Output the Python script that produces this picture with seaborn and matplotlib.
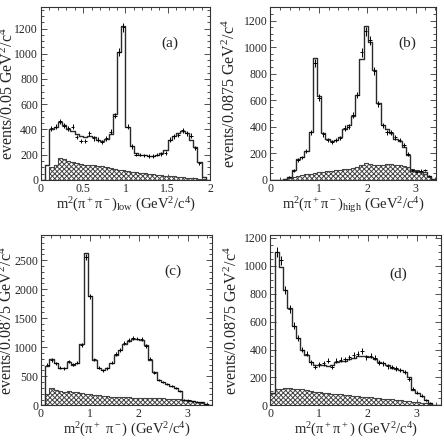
import numpy as np
import pandas as pd
import matplotlib
matplotlib.use("Agg")
import matplotlib.pyplot as plt
from matplotlib.ticker import MultipleLocator, FormatStrFormatter
import seaborn as sns

# bin edges
edges_a = np.linspace(0, 2.0, 41)
edges_b = np.linspace(0, 3.5, 41)

# (a) m2(pi+pi-)_low, 0.05 bins
fit_a = [0, 115, 400, 420, 455, 435, 400, 385, 365, 345,
         340, 345, 340, 320, 305, 325, 365, 520, 1010, 1220,
         420, 265, 210, 200, 195, 192, 192, 198, 210, 235,
         320, 345, 370, 390, 370, 320, 260, 140, 20, 0]
data_a = [np.nan, np.nan, 410, 420, 465, 430, 410, 420, 340, 310,
          310, 370, 330, 320, 300, 330, 380, 510, 1010, 1210,
          420, 265, 200, 200, 195, 190, 190, 200, 205, 215,
          320, 345, 355, 395, 370, 350, 250, 130, np.nan, np.nan]
bkg_a = [0, 0, 105, 115, 170, 165, 150, 140, 130, 125,
         120, 115, 115, 112, 108, 100, 92, 85, 80, 75,
         70, 65, 60, 56, 52, 48, 44, 40, 37, 34,
         31, 28, 25, 22, 18, 15, 12, 8, 4, 0]

# (b) m2(pi+pi-)_high, 0.0875 bins
fit_b = [0, 0, 0, 8, 25, 75, 160, 175, 215, 360,
         920, 630, 350, 310, 290, 300, 320, 380, 410, 480,
         640, 910, 1160, 1040, 830, 580, 410, 380, 350, 310,
         290, 250, 190, 70, 65, 60, 60, 30, 5, 0]
data_b = [np.nan, np.nan, np.nan, np.nan, 25, 70, 150, 170, 220, 360,
          880, 620, 345, 300, 285, 300, 315, 390, 400, 490,
          640, 960, 1120, 1050, 820, 570, 410, 360, 360, 320,
          300, 265, 195, 75, 60, 70, 75, 30, np.nan, np.nan]
bkg_b = [0, 0, 0, 5, 15, 25, 32, 38, 43, 48,
         52, 56, 60, 64, 68, 72, 76, 80, 85, 92,
         100, 112, 125, 122, 115, 112, 115, 118, 118, 115,
         110, 105, 95, 85, 75, 60, 45, 20, 5, 0]

# (c) m2(pi+ pi-), 0.0875 bins
fit_c = [0, 680, 790, 720, 640, 650, 740, 700, 730, 1050,
         2630, 1880, 780, 650, 600, 650, 720, 870, 960, 1050,
         1100, 1140, 1150, 1130, 1030, 780, 570, 440, 400, 360,
         330, 300, 240, 100, 80, 70, 60, 50, 20, 0]
data_c = [np.nan, 700, 780, 720, 650, 640, 760, 710, 730, 1040,
          2560, 1880, 790, 650, 600, 640, 730, 880, 950, 1070,
          1120, 1160, 1150, 1140, 1020, 800, 560, 440, 400, 370,
          330, 300, 240, 100, 90, 70, 60, 50, 20, np.nan]
bkg_c = [0, 200, 290, 260, 245, 235, 240, 235, 225, 210,
         200, 190, 180, 170, 160, 155, 150, 145, 140, 138,
         135, 132, 130, 128, 126, 124, 122, 120, 118, 115,
         112, 108, 102, 95, 85, 75, 60, 45, 25, 0]

# (d) m2(pi+pi+), 0.0875 bins
fit_d = [90, 1100, 990, 830, 700, 570, 480, 400, 360, 310,
         290, 290, 290, 285, 290, 310, 320, 320, 330, 340,
         350, 350, 350, 345, 330, 310, 300, 290, 270, 260,
         250, 240, 200, 110, 90, 70, 40, 20, 5, 0]
data_d = [np.nan, 1100, 1040, 830, 690, 570, 480, 400, 370, 310,
          275, 295, 300, 320, 275, 320, 325, 330, 345, 360,
          370, 390, 345, 355, 340, 305, 300, 280, 275, 265,
          255, 240, 190, 120, 90, 70, 40, 20, np.nan, np.nan]
bkg_d = [90, 115, 120, 122, 122, 120, 118, 114, 108, 102,
         97, 93, 90, 87, 84, 81, 78, 75, 72, 69,
         66, 63, 60, 57, 54, 51, 48, 45, 42, 39,
         36, 33, 30, 26, 22, 18, 14, 10, 5, 0]

sns.set_theme(style="ticks")
plt.rcParams['font.family'] = ['Liberation Serif', 'DejaVu Serif']
plt.rcParams['mathtext.fontset'] = 'custom'
plt.rcParams['mathtext.rm'] = 'Liberation Serif'
plt.rcParams['mathtext.it'] = 'Liberation Serif:italic'
plt.rcParams['hatch.linewidth'] = 0.7
plt.rcParams['hatch.color'] = '#333333'

fig = plt.figure(figsize=(4.44, 4.42), dpi=100)

ylab_a = r"events/0.05 GeV$^2$/c$^4$"
ylab_b = r"events/0.0875 GeV$^2$/c$^4$"

panels = [
    # rect, edges, fit, data, bkg, xlim, ylim, xmaj, xmin, ymaj, ymin,
    # xlabel, ylabel, ylabel x, tag, tagpos
    ([0.092, 0.593, 0.381, 0.391], edges_a, fit_a, data_a, bkg_a, (0, 2), (0, 1370), 0.5, 0.1, 200, 50,
     r"m$^2$(π$^+$π$^-$)$_{\mathrm{low}}$ (GeV$^2$/c$^4$)", ylab_a, -0.195, "(a)", (0.76, 0.79)),
    ([0.609, 0.593, 0.372, 0.392], edges_b, fit_b, data_b, bkg_b, (0, 3.41), (0, 1305), 1, 0.2, 200, 50,
     r"m$^2$(π$^+$π$^-$)$_{\mathrm{high}}$ (GeV$^2$/c$^4$)", ylab_b, -0.24, "(b)", (0.83, 0.79)),
    ([0.092, 0.083, 0.386, 0.385], edges_b, fit_c, data_c, bkg_c, (0, 3.5), (0, 2930), 1, 0.2, 500, 100,
     r"m$^2$(π$^+$ π$^-$) (GeV$^2$/c$^4$)", ylab_b, -0.195, "(c)", (0.77, 0.79)),
    ([0.609, 0.083, 0.384, 0.385], edges_b, fit_d, data_d, bkg_d, (0, 3.5), (0, 1220), 1, 0.2, 200, 50,
     r"m$^2$(π$^+$π$^+$) (GeV$^2$/c$^4$)", ylab_b, -0.225, "(d)", (0.75, 0.77)),
]

for (rect, edges, fit, data, bkg, xlim, ylim, xmaj, xmin, ymaj, ymin,
     xlabel, ylabel, ylx, tag, tagpos) in panels:
    ax = fig.add_axes(rect)
    centers = 0.5 * (edges[:-1] + edges[1:])
    bw = edges[1] - edges[0]

    # background (hatched)
    ax.stairs(bkg, edges, fill=True, facecolor='white', edgecolor='#444444',
              hatch='xxxxxxx', linewidth=0.6)
    ax.stairs(bkg, edges, fill=False, edgecolor='#444444', linewidth=0.8)

    # fit histogram
    df = pd.DataFrame({"m": centers, "w": np.asarray(fit, dtype=float)})
    sns.histplot(data=df, x="m", weights="w", bins=list(edges), element='step',
                 fill=False, color='#2a2a2a', linewidth=1.0, ax=ax)

    # data points
    d = np.array(data, dtype=float)
    ax.errorbar(centers, d, yerr=np.sqrt(np.nan_to_num(d)), xerr=bw * 0.4,
                fmt='none', ecolor='black', elinewidth=0.7, capsize=0)

    ax.set_xlim(*xlim)
    ax.set_ylim(*ylim)
    ax.xaxis.set_major_locator(MultipleLocator(xmaj))
    ax.xaxis.set_minor_locator(MultipleLocator(xmin))
    ax.yaxis.set_major_locator(MultipleLocator(ymaj))
    ax.yaxis.set_minor_locator(MultipleLocator(ymin))
    ax.xaxis.set_major_formatter(FormatStrFormatter('%g'))
    ax.tick_params(which='both', direction='in', top=True, right=True,
                   labelsize=8.5, color='#333333', width=0.6, pad=2)
    ax.tick_params(which='major', length=4)
    ax.tick_params(which='minor', length=2)
    for s in ax.spines.values():
        s.set_linewidth(0.8)
        s.set_color('#333333')
    ax.set_xlabel(xlabel, fontsize=10.5, va='center')
    ax.xaxis.set_label_coords(0.5, -0.145)
    ax.set_ylabel(ylabel, fontsize=11.5, va='center')
    ax.yaxis.set_label_coords(ylx, 0.5)
    ax.text(tagpos[0], tagpos[1], tag, transform=ax.transAxes, fontsize=11,
            ha='center', va='center')

fig.savefig("out.png", dpi=100)
